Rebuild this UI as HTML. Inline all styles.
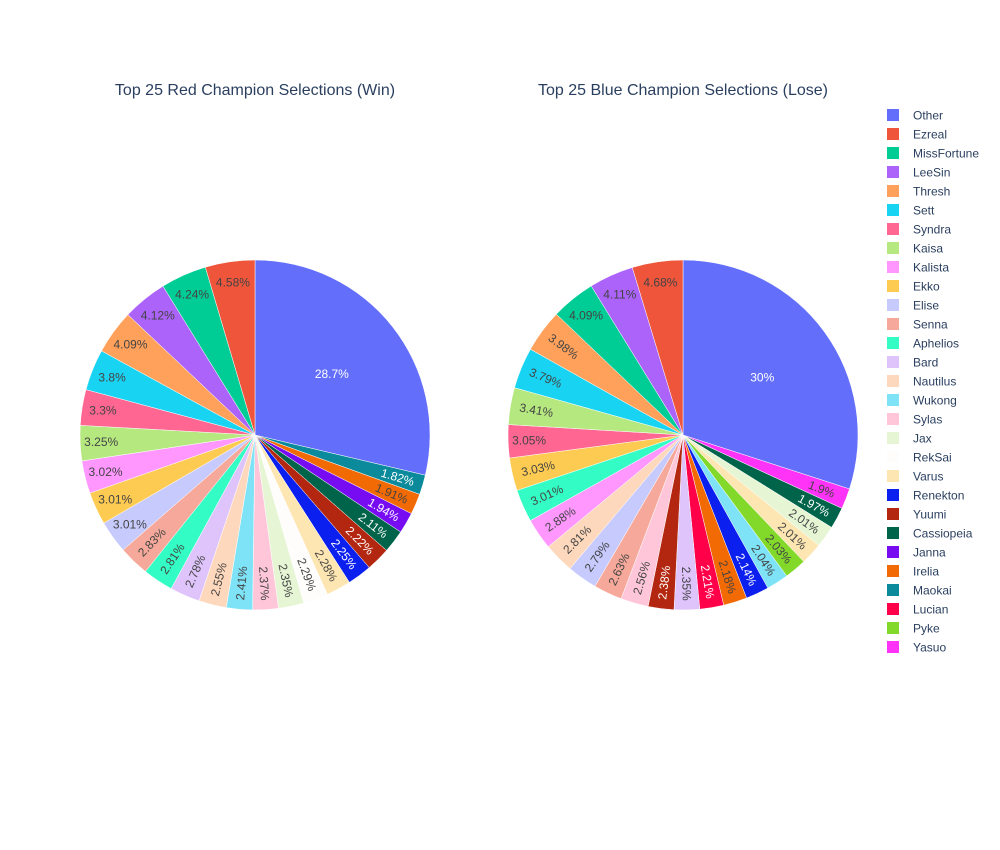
<!DOCTYPE html>
<html><head><meta charset="utf-8">
<style>
body{margin:0;background:#fff;font-family:"Liberation Sans",Arial,sans-serif;}
svg{display:block}
</style></head>
<body>
<svg id="chart" width="1000" height="850" viewBox="0 0 1000 850">
<text x="255" y="95" text-anchor="middle" font-size="16" fill="#2a3f5f">Top 25 Red Champion Selections (Win)</text>
<text x="683" y="95" text-anchor="middle" font-size="16" fill="#2a3f5f">Top 25 Blue Champion Selections (Lose)</text>
<g id="left"></g>
<g id="right"></g>
<g id="legend"></g>
</svg>
<script>
const redLabels = ["Other","Maokai","Irelia","Janna","Cassiopeia","Yuumi","Renekton","Varus","RekSai","Jax","Sylas","Wukong","Nautilus","Bard","Aphelios","Senna","Elise","Ekko","Kalista","Kaisa","Syndra","Sett","Thresh","LeeSin","MissFortune","Ezreal"];
const redValues = [28.7,1.82,1.91,1.94,2.11,2.22,2.25,2.28,2.29,2.35,2.37,2.41,2.55,2.78,2.81,2.83,3.01,3.01,3.02,3.25,3.3,3.8,4.09,4.12,4.24,4.58];
const blueLabels = ["Other","Yasuo","Cassiopeia","Jax","Varus","Pyke","Wukong","Renekton","Irelia","Lucian","Bard","Yuumi","Sylas","Senna","Elise","Nautilus","Kalista","Aphelios","Ekko","Syndra","Kaisa","Sett","Thresh","MissFortune","LeeSin","Ezreal"];
const blueValues = [30,1.9,1.97,2.01,2.01,2.03,2.04,2.14,2.18,2.21,2.35,2.38,2.56,2.63,2.79,2.81,2.88,3.01,3.03,3.05,3.41,3.79,3.98,4.09,4.11,4.68];
const legendLabels = ["Other","Ezreal","MissFortune","LeeSin","Thresh","Sett","Syndra","Kaisa","Kalista","Ekko","Elise","Senna","Aphelios","Bard","Nautilus","Wukong","Sylas","Jax","RekSai","Varus","Renekton","Yuumi","Cassiopeia","Janna","Irelia","Maokai","Lucian","Pyke","Yasuo"];
const colors = {Other:"#636efa",Ezreal:"#ef553b",MissFortune:"#00cc96",LeeSin:"#ab63fa",Thresh:"#ffa15a",Sett:"#19d3f3",Syndra:"#ff6692",Kaisa:"#b6e880",Kalista:"#ff97ff",Ekko:"#fecb52",Elise:"#c6cafd",Senna:"#f6a99a",Aphelios:"#33fdc4",Bard:"#dfc3fb",Nautilus:"#fed8bc",Wukong:"#7ee3f6",Sylas:"#ffc6da",Jax:"#e6f6d5",RekSai:"#fffcfc",Varus:"#fee6b2",Renekton:"#0b1fee",Yuumi:"#b3260f",Cassiopeia:"#00644a",Janna:"#770bf2",Irelia:"#f26a04",Maokai:"#0b8a9c",Lucian:"#ff0049",Pyke:"#83d92a",Yasuo:"#ff33f8"};
const NS="http://www.w3.org/2000/svg";
function isLight(hex){const r=parseInt(hex.substr(1,2),16),g=parseInt(hex.substr(3,2),16),b=parseInt(hex.substr(5,2),16);return (r*299+g*587+b*114)/1000>=128;}
function pt(cx,cy,r,a){return [cx+r*Math.sin(a),cy-r*Math.cos(a)];}
function drawPie(gid,labels,values,cx,cy,R,horizMin,horizExtra){
  const g=document.getElementById(gid);
  const tot=values.reduce((a,b)=>a+b,0);
  let a0=0;
  values.forEach((v,i)=>{
    const a1=a0+v/tot*2*Math.PI;
    const p0=pt(cx,cy,R,a0),p1=pt(cx,cy,R,a1);
    const large=(a1-a0)>Math.PI?1:0;
    const path=document.createElementNS(NS,"path");
    path.setAttribute("d",`M${cx},${cy}L${p0[0]},${p0[1]}A${R},${R} 0 ${large} 1 ${p1[0]},${p1[1]}Z`);
    const col=colors[labels[i]];
    path.setAttribute("fill",col);
    path.setAttribute("stroke","#fff");
    path.setAttribute("stroke-width","0.5");
    
    
    g.appendChild(path);
    const am=(a0+a1)/2;
    const t=document.createElementNS(NS,"text");
    t.textContent=v+"%";
    t.setAttribute("font-size","12");
    t.setAttribute("text-anchor","middle");
    t.setAttribute("dominant-baseline","central");
    t.setAttribute("fill",isLight(col)?"#444":"#fff");
    let p;
    if(v>10){p=pt(cx,cy,R*0.56,am);t.setAttribute("x",p[0]);t.setAttribute("y",p[1]);}
    else if(v>=horizMin||horizExtra.includes(labels[i])){p=pt(cx,cy,R*0.88,am);t.setAttribute("x",p[0]);t.setAttribute("y",p[1]);}
    else{
      p=pt(cx,cy,R*0.85,am);
      let rot=Math.atan2(-Math.cos(am),Math.sin(am))*180/Math.PI;
      if(rot>90)rot-=180; if(rot<-90)rot+=180;
      t.setAttribute("x",p[0]);t.setAttribute("y",p[1]);
      t.setAttribute("transform",`rotate(${rot},${p[0]},${p[1]})`);
    }
    
    
    g.appendChild(t);
    a0=a1;
  });
}
drawPie("left",redLabels,redValues,255,435,175,3.0,[]);
drawPie("right",blueLabels,blueValues,683,435,175,4.0,["Syndra"]);
const lg=document.getElementById("legend");
legendLabels.forEach((l,i)=>{
  const y=115+i*19;
  const r=document.createElementNS(NS,"rect");
  r.setAttribute("x",887);r.setAttribute("y",y-6);r.setAttribute("width",12);r.setAttribute("height",12);
  r.setAttribute("fill",colors[l]);
  
  
  lg.appendChild(r);
  const t=document.createElementNS(NS,"text");
  t.setAttribute("x",913);t.setAttribute("y",y+4.5);t.setAttribute("font-size","12");t.setAttribute("fill","#2a3f5f");
  t.textContent=l;
  
  
  lg.appendChild(t);
});
</script>
</body></html>
